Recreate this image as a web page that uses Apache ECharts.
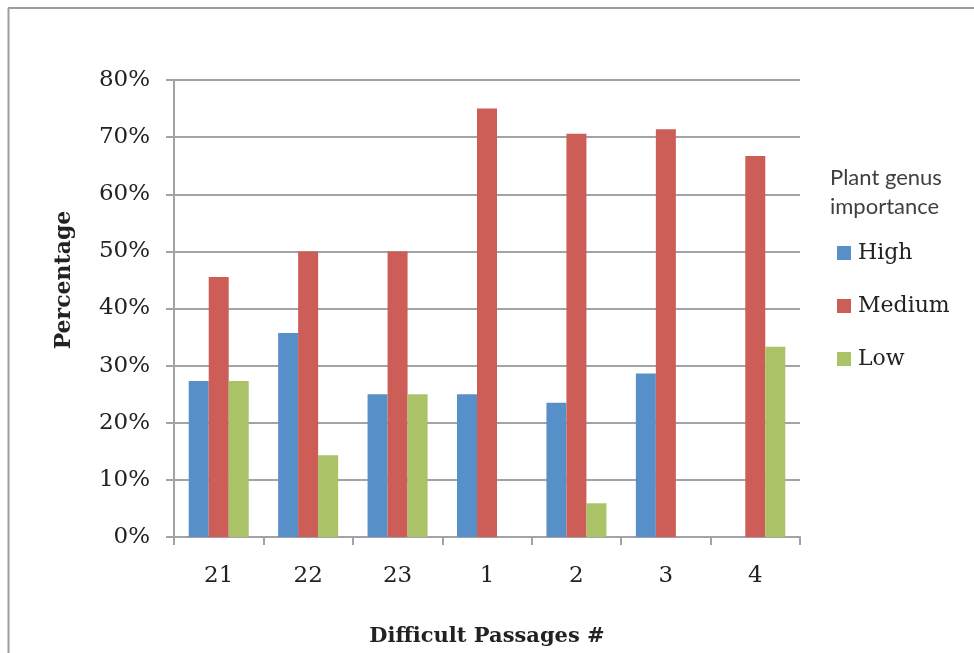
<!DOCTYPE html>
<html><head><meta charset="utf-8">
<script src="https://cdn.jsdelivr.net/npm/echarts@6/dist/echarts.min.js"></script>
<style>html,body{margin:0;padding:0;background:#fff}#c{width:974px;height:653px}</style>
</head><body><div id="c"></div>
<script>
const categories = ['21','22','23','1','2','3','4'];
const high = [27.3, 35.7, 25.0, 25.0, 23.5, 28.6, 0];
const medium = [45.5, 50.0, 50.0, 75.0, 70.6, 71.4, 66.7];
const low = [27.3, 14.3, 25.0, 0, 5.9, 0, 33.3];
const yTicks = [0, 10, 20, 30, 40, 50, 60, 70, 80];

const serif = 'DejaVu Serif';
const chart = echarts.init(document.getElementById('c'));
const gridColor = '#a3a3a7';
chart.setOption({
  animation: false,
  grid: {left: 174, right: 174, top: 80, bottom: 116, outerBoundsMode: 'none', containLabel: false},
  graphic: [
    {type: 'line', shape: {x1: 8, y1: 8, x2: 974, y2: 8}, style: {stroke: '#9d9da1', lineWidth: 2}},
    {type: 'line', shape: {x1: 8.5, y1: 8, x2: 8.5, y2: 653}, style: {stroke: '#9d9da1', lineWidth: 2}},
    {type: 'text', left: 830, top: 163, style: {text: 'Plant genus\nimportance', font: '22px Lato', fill: '#404040', lineHeight: 29}},
    {type: 'text', x: 64, y: 280, rotation: Math.PI / 2,
      style: {text: 'Percentage', font: 'bold 22px "DejaVu Serif"', fill: '#222', align: 'center', verticalAlign: 'middle'}}
  ],
  legend: {
    orient: 'vertical', left: 837, top: 242, itemWidth: 14, itemHeight: 14, itemGap: 31,
    icon: 'rect', padding: 0,
    textStyle: {fontFamily: serif, fontSize: 22, color: '#222', padding: [0, 0, 0, 2]},
    data: ['High', 'Medium', 'Low']
  },
  xAxis: {
    type: 'category', data: categories,
    name: 'Difficult Passages #', nameLocation: 'middle', nameGap: 89,
    nameTextStyle: {fontFamily: serif, fontWeight: 'bold', fontSize: 21, color: '#222'},
    axisLine: {lineStyle: {color: gridColor, width: 2}},
    axisTick: {show: true, length: 8, lineStyle: {color: gridColor, width: 2}},
    axisLabel: {fontFamily: serif, fontSize: 23, color: '#222', margin: 28}
  },
  yAxis: {
    type: 'value', min: 0, max: 80, interval: 10,
    axisLine: {show: true, lineStyle: {color: gridColor, width: 2}},
    axisTick: {show: true, length: 8, lineStyle: {color: gridColor, width: 2}},
    splitLine: {lineStyle: {color: gridColor, width: 2}},
    axisLabel: {fontFamily: serif, fontSize: 23, color: '#222', margin: 24,
      formatter: v => yTicks.includes(v) ? v + '%' : ''}
  },
  series: [
    {name: 'High', type: 'bar', data: high, barWidth: 20, barGap: '0%', itemStyle: {color: '#5790c8'}},
    {name: 'Medium', type: 'bar', data: medium, barWidth: 20, barGap: '0%', itemStyle: {color: '#cd5d57'}},
    {name: 'Low', type: 'bar', data: low, barWidth: 20, barGap: '0%', itemStyle: {color: '#a9c366'}}
  ]
});
</script></body></html>
